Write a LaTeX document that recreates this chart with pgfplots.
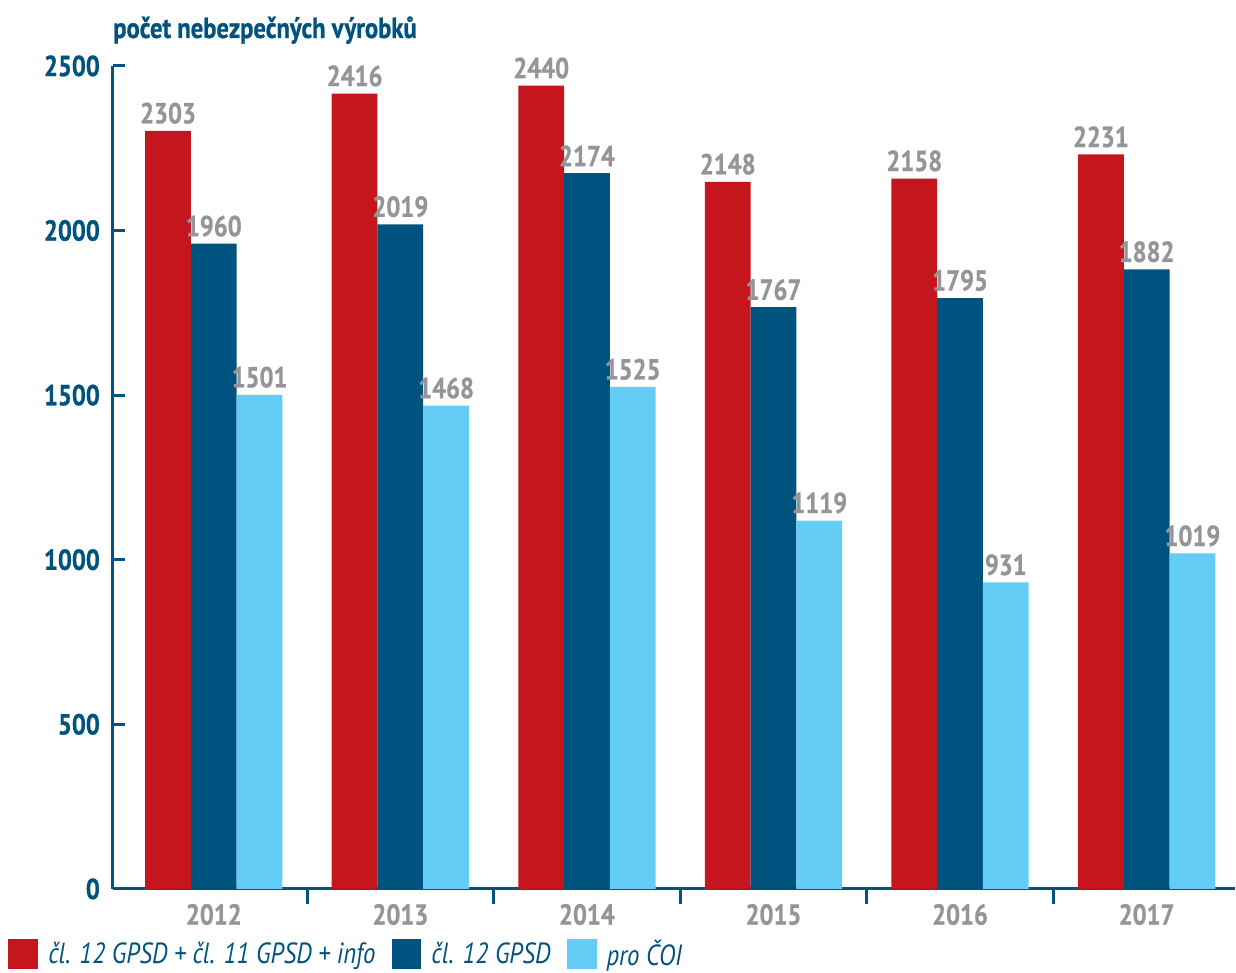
\documentclass[border=0pt]{standalone}
\usepackage{fontspec}
\setmainfont{PT Sans}[FakeStretch=0.85, BoldFeatures={FakeBold=0.8}]
\usepackage{pgfplots}
\pgfplotsset{compat=1.18}
\definecolor{cred}{HTML}{C5161D}
\definecolor{cblue}{HTML}{00537E}
\definecolor{clight}{HTML}{64CDF5}
\definecolor{cgray}{HTML}{939598}
\begin{document}
\begin{tikzpicture}
\begin{axis}[
  scale only axis, width=561.5pt, height=412pt,
  xmin=-0.541, xmax=5.471, ymin=0, ymax=2500,
  ybar=0pt, bar width=22.9pt,
  clip=false,
  axis lines*=left,
  axis line style={cblue, line width=1.5pt, -},
  tick align=inside,
  tick style={cblue, line width=1.5pt},
  ytick={0,500,1000,1500,2000,2500},
  major tick length=6pt,
  xtick={0,1,2,3,4,5},
  xticklabels={2012,2013,2014,2015,2016,2017},
  major x tick style={draw=none},
  minor xtick={0.5,1.5,2.5,3.5,4.5},
  minor tick length=7.5pt,
  minor x tick style={yshift=-7.5pt},
  /pgf/number format/assume math mode=true,
  /pgf/number format/1000 sep={},
  yticklabel style={font=\bfseries\fontsize{14.5}{16}\selectfont, text=cblue, xshift=-3pt},
  xticklabel style={font=\bfseries\fontsize{14.5}{16}\selectfont, text=cgray, yshift=-4pt},
  nodes near coords,
  every node near coord/.append style={font=\bfseries\fontsize{14.5}{16}\selectfont, text=cgray, /pgf/number format/1000 sep={}},
  legend columns=3,
  legend style={draw=none, fill=none, at={(axis description cs:-0.0935,-0.079)}, anchor=west,
    font=\itshape\fontsize{14.6}{17}\selectfont, text=cblue, inner sep=0pt,
    nodes={inner xsep=5pt},
    /tikz/every even column/.append style={column sep=3pt}},
  legend image code/.code={\fill[#1] (0pt,-7.5pt) rectangle (15pt,7.5pt);},
]
\addplot[fill=cred, draw=none] coordinates {(0,2303) (1,2416) (2,2440) (3,2148) (4,2158) (5,2231)};
\addplot[fill=cblue, draw=none] coordinates {(0,1960) (1,2019) (2,2174) (3,1767) (4,1795) (5,1882)};
\addplot[fill=clight, draw=none] coordinates {(0,1501) (1,1468) (2,1525) (3,1119) (4,931) (5,1019)};
\legend{čl. 12 GPSD + čl. 11 GPSD + info, čl. 12 GPSD, pro ČOI}
\node[anchor=base west, inner sep=0pt, font=\bfseries\fontsize{14.5}{17}\selectfont, text=cblue]
  at ([yshift=14pt]rel axis cs:0,1) {počet nebezpečných výrobků};
\coordinate (O) at (rel axis cs:0,0);
\coordinate (TR) at (rel axis cs:1,1);
\end{axis}
\path ([xshift=-56.5pt,yshift=-40pt]O) rectangle ([yshift=33pt]TR);
\end{tikzpicture}
\end{document}
